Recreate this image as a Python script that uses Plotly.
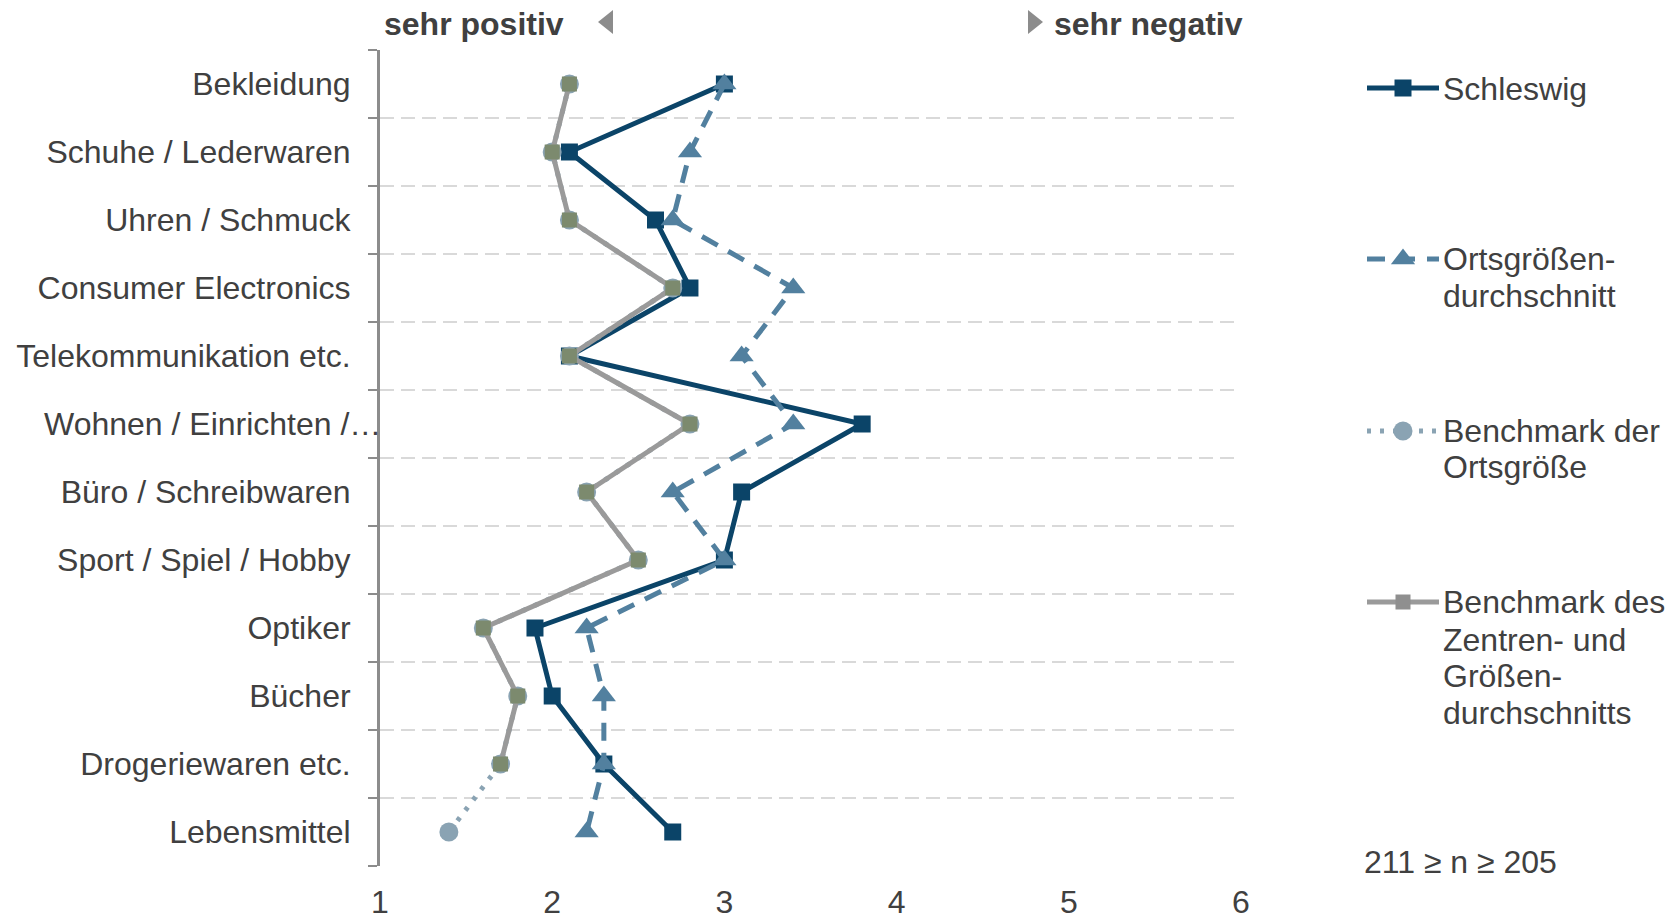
import plotly.graph_objects as go

# ---------------- data ----------------
categories = [
    "Bekleidung",
    "Schuhe / Lederwaren",
    "Uhren / Schmuck",
    "Consumer Electronics",
    "Telekommunikation etc.",
    "Wohnen / Einrichten /…",
    "Büro / Schreibwaren",
    "Sport / Spiel / Hobby",
    "Optiker",
    "Bücher",
    "Drogeriewaren etc.",
    "Lebensmittel",
]
schleswig = [3.0, 2.1, 2.6, 2.8, 2.1, 3.8, 3.1, 3.0, 1.9, 2.0, 2.3, 2.7]
ortsgroessen_durchschnitt = [3.0, 2.8, 2.7, 3.4, 3.1, 3.4, 2.7, 3.0, 2.2, 2.3, 2.3, 2.2]
benchmark_ortsgroesse = [2.1, 2.0, 2.1, 2.7, 2.1, 2.8, 2.2, 2.5, 1.6, 1.8, 1.7, 1.4]
benchmark_zentren = [2.1, 2.0, 2.1, 2.7, 2.1, 2.8, 2.2, 2.5, 1.6, 1.8, 1.7, None]
x_ticks = [1, 2, 3, 4, 5, 6]

series_names = [
    ["Schleswig"],
    ["Ortsgrößen-", "durchschnitt"],
    ["Benchmark der", "Ortsgröße"],
    ["Benchmark des", "Zentren- und", "Größen-", "durchschnitts"],
]
n_note = "211 ≥ n ≥ 205"
head_left = "sehr positiv"
head_right = "sehr negativ"
truncated_label = "Wohnen / Einrichten /…"   # label drawn flush with the axis (truncated text)

# ---------------- styling ----------------
W, H = 1677, 919
REF_L, REF_T, REF_B, REF_R = 380, 50, 866, 1241
L, T = REF_L, REF_T
B = H - REF_B
FONT = "Liberation Sans, Arial, sans-serif"
FS = 32
TXT = "#404040"
C_SCHL = "#0b4468"
C_ORT = "#52809f"
C_BORT = "#8aa3b3"
C_BZ = "#9a9a9a"
C_BZ_MK = "#7c8a6e"
LW = 5

plot_w = W - L
dom_main = (REF_R - L) / plot_w
LEG_X0 = 1367
LEG_LEN = 72


def px(x):
    """page pixel x -> paper coordinate"""
    return (x - L) / plot_w


def py(y):
    """page pixel y -> paper coordinate"""
    return (H - B - y) / (H - B - T)


fig = go.Figure()

# data traces
fig.add_trace(go.Scatter(
    x=schleswig, y=categories, mode="lines+markers",
    line=dict(color=C_SCHL, width=LW),
    marker=dict(symbol="square", size=17, color=C_SCHL),
    showlegend=False))
fig.add_trace(go.Scatter(
    x=ortsgroessen_durchschnitt, y=categories, mode="lines+markers",
    line=dict(color=C_ORT, width=LW, dash="18px,12px"),
    marker=dict(symbol="triangle-up", size=21, color=C_ORT),
    showlegend=False))
fig.add_trace(go.Scatter(
    x=benchmark_ortsgroesse, y=categories, mode="lines+markers",
    line=dict(color=C_BORT, width=LW, dash="4px,9px"),
    marker=dict(symbol="circle", size=19, color=C_BORT),
    showlegend=False))
fig.add_trace(go.Scatter(
    x=benchmark_zentren, y=categories, mode="lines+markers",
    line=dict(color=C_BZ, width=LW),
    marker=dict(symbol="square", size=15, color=C_BZ_MK),
    connectgaps=False, showlegend=False))

# legend samples on auxiliary axis (page pixel coordinates)
leg_y = [88, 259, 431, 602]
leg_text_y = [[89], [259, 296], [431, 467], [602, 640, 676, 713]]
styles = [
    dict(line=dict(color=C_SCHL, width=LW), marker=dict(symbol="square", size=17, color=C_SCHL)),
    dict(line=dict(color=C_ORT, width=LW, dash="18px,12px"), marker=dict(symbol="triangle-up", size=21, color=C_ORT)),
    dict(line=dict(color=C_BORT, width=LW, dash="4px,9px"), marker=dict(symbol="circle", size=19, color=C_BORT)),
    dict(line=dict(color=C_BZ, width=LW), marker=dict(symbol="square", size=15, color="#8f8f8f")),
]
for yy, st in zip(leg_y, styles):
    fig.add_trace(go.Scatter(x=[LEG_X0, LEG_X0 + LEG_LEN], y=[yy, yy], mode="lines",
                             line=st["line"], xaxis="x2", yaxis="y2", showlegend=False,
                             hoverinfo="skip"))
    fig.add_trace(go.Scatter(x=[LEG_X0 + LEG_LEN / 2], y=[yy], mode="markers",
                             marker=st["marker"], xaxis="x2", yaxis="y2", showlegend=False,
                             hoverinfo="skip"))

annotations = []
for lines, ys in zip(series_names, leg_text_y):
    for line_txt, yy in zip(lines, ys):
        annotations.append(dict(x=px(1441), y=py(yy), xref="paper", yref="paper",
                                text=line_txt, showarrow=False, xanchor="left", yanchor="middle",
                                align="left", font=dict(family=FONT, size=FS, color=TXT)))
annotations.append(dict(x=px(1362), y=py(862), xref="paper", yref="paper",
                        text=n_note, showarrow=False, xanchor="left", yanchor="middle",
                        font=dict(family=FONT, size=FS, color=TXT)))
annotations.append(dict(x=px(382), y=py(24), xref="paper", yref="paper",
                        text="<b>" + head_left + "</b>", showarrow=False, xanchor="left",
                        yanchor="middle", font=dict(family=FONT, size=FS, color=TXT)))
annotations.append(dict(x=px(1245), y=py(24), xref="paper", yref="paper",
                        text="<b>" + head_right + "</b>", showarrow=False, xanchor="right",
                        yanchor="middle", font=dict(family=FONT, size=FS, color=TXT)))
# truncated category label, reaching up to the axis line
annotations.append(dict(x=px(383), y=truncated_label, xref="paper", yref="y",
                        text=truncated_label, showarrow=False, xanchor="right",
                        yanchor="middle", font=dict(family=FONT, size=FS, color=TXT)))

shapes = [
    dict(type="path", xref="paper", yref="paper",
         path=f"M {px(598)} {py(22)} L {px(613)} {py(10)} L {px(613)} {py(34)} Z",
         fillcolor="#8c8c8c", line=dict(width=0)),
    dict(type="path", xref="paper", yref="paper",
         path=f"M {px(1043)} {py(22)} L {px(1028)} {py(10)} L {px(1028)} {py(34)} Z",
         fillcolor="#8c8c8c", line=dict(width=0)),
]

tick_text = ["" if c == truncated_label else c for c in categories]

fig.update_layout(
    width=W, height=H,
    margin=dict(l=L, r=0, t=T, b=B, autoexpand=False),
    paper_bgcolor="white", plot_bgcolor="white",
    font=dict(family=FONT, size=FS, color=TXT),
    annotations=annotations, shapes=shapes,
    xaxis=dict(domain=[0, dom_main], range=[1, 6], tickvals=x_ticks, automargin=False,
               showgrid=False, zeroline=False, showline=False, ticks="",
               tickfont=dict(family=FONT, size=FS, color=TXT), ticklabelstandoff=14),
    yaxis=dict(type="category", categoryorder="array", categoryarray=categories,
               tickmode="array", tickvals=categories, ticktext=tick_text,
               range=[11.5, -0.5], tickson="boundaries", automargin=False,
               showgrid=True, gridcolor="#d9d9d9", gridwidth=2, griddash="14px,7px",
               showline=True, linecolor="#8c8c8c", linewidth=3,
               ticks="outside", ticklen=9, tickcolor="#8c8c8c", tickwidth=2,
               tickfont=dict(family=FONT, size=FS, color=TXT), ticklabelstandoff=20),
    xaxis2=dict(domain=[(LEG_X0 - 10 - L) / plot_w, 1], range=[LEG_X0 - 10, W],
                visible=False, anchor="y2", automargin=False),
    yaxis2=dict(domain=[0, 1], range=[REF_B, REF_T], visible=False, anchor="x2",
                automargin=False),
)

fig.write_html("out.html",
               config={"displayModeBar": False},
               post_script="document.body.style.margin='0';document.body.style.overflow='hidden';")
